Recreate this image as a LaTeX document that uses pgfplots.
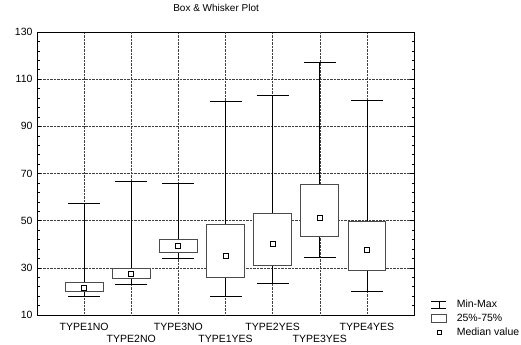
\documentclass[border=0pt]{standalone}
\usepackage{fontspec}
\setmainfont{Liberation Sans}
\usepackage{pgfplots}
\usepackage{pgfplotstable}
\pgfplotsset{compat=1.18}
\pgfplotstableread{
pos min q1 med q3 max
1 17.9 19.8 21.3 24.0 57.4
2 22.9 25.4 27.3 29.6 66.7
3 33.9 36.7 39.1 41.9 65.8
4 18.1 25.8 34.9 48.3 100.5
5 23.3 31.2 40.1 53.1 103.2
6 34.3 43.1 51.3 65.4 117.2
7 20.0 28.7 37.6 49.7 101.2
}\stats
\begin{document}
\begin{tikzpicture}
\begin{axis}[
  scale only axis, width=377pt, height=283pt,
  xmin=0, xmax=8, ymin=10, ymax=130,
  ytick={10,30,...,130},
  minor y tick num=4,
  xtick={1,3,5,7},
  xticklabels={TYPE1NO,TYPE3NO,TYPE2YES,TYPE4YES},
  extra x ticks={2,4,6},
  extra x tick labels={TYPE2NO,TYPE1YES,TYPE3YES},
  extra x tick style={grid=major, xticklabel style={yshift=-12.3pt}},
  xtick style={draw=none},
  grid=major,
  grid style={densely dotted, black!75, line width=0.5pt},
  axis line style={black, line width=0.8pt},
  tick align=inside, tick pos=both,
  major tick length=4pt, minor tick length=2.5pt,
  ytick style={black, line width=0.5pt},
  /pgf/number format/assume math mode=true,
  xticklabel style={font=\fontsize{10.5}{12}\selectfont, anchor=north, yshift=-4.5pt},
  yticklabel style={font=\fontsize{10.5}{12}\selectfont, xshift=-1pt},
  title={Box \& Whisker Plot},
  title style={font=\fontsize{10}{12}\selectfont, at={(0.475,1)}, anchor=base, yshift=14.7pt},
  legend style={draw=none, fill=none, inner sep=0pt, outer sep=0pt,
    at={(rel axis cs:1,0)}, anchor=north west, xshift=17pt, yshift=17pt,
    font=\fontsize{10.5}{12}\selectfont, row sep=1pt,
    /tikz/every odd column/.append style={column sep=8pt}},
  legend cell align=left,
]
% whiskers (min to max)
\addplot[forget plot, draw=none, mark=none,
  error bars/.cd, y dir=both, y explicit,
  error bar style={draw=black, line width=0.7pt},
  error mark options={draw=black, rotate=90, mark size=16pt, line width=0.7pt}]
  table[x=pos, y=med, y error plus expr=\thisrow{max}-\thisrow{med}, y error minus expr=\thisrow{med}-\thisrow{min}] {\stats};
% boxes (25%-75%)
\addplot[forget plot, draw=black!70, fill=white, line width=0.9pt] coordinates {(0.6,19.8) (1.4,19.8) (1.4,24.0) (0.6,24.0)} -- cycle;
\addplot[forget plot, draw=black!70, fill=white, line width=0.9pt] coordinates {(1.6,25.4) (2.4,25.4) (2.4,29.6) (1.6,29.6)} -- cycle;
\addplot[forget plot, draw=black!70, fill=white, line width=0.9pt] coordinates {(2.6,36.7) (3.4,36.7) (3.4,41.9) (2.6,41.9)} -- cycle;
\addplot[forget plot, draw=black!70, fill=white, line width=0.9pt] coordinates {(3.6,25.8) (4.4,25.8) (4.4,48.3) (3.6,48.3)} -- cycle;
\addplot[forget plot, draw=black!70, fill=white, line width=0.9pt] coordinates {(4.6,31.2) (5.4,31.2) (5.4,53.1) (4.6,53.1)} -- cycle;
\addplot[forget plot, draw=black!70, fill=white, line width=0.9pt] coordinates {(5.6,43.1) (6.4,43.1) (6.4,65.4) (5.6,65.4)} -- cycle;
\addplot[forget plot, draw=black!70, fill=white, line width=0.9pt] coordinates {(6.6,28.7) (7.4,28.7) (7.4,49.7) (6.6,49.7)} -- cycle;
% medians
\addplot[forget plot, only marks, mark=square*, mark size=2.5pt, mark options={fill=white, draw=black, line width=0.8pt}]
  table[x=pos, y=med] {\stats};
\addlegendimage{legend image code/.code={\draw[black, line width=0.6pt] (0pt,-3.5pt)--(15pt,-3.5pt) (7.5pt,-3.5pt)--(7.5pt,3.5pt) (0pt,3.5pt)--(15pt,3.5pt);}}
\addlegendentry{Min-Max}
\addlegendimage{legend image code/.code={\draw[black!70, line width=0.8pt, fill=white] (0pt,-3.7pt) rectangle (15pt,3.7pt);}}
\addlegendentry{25\%-75\%}
\addlegendimage{legend image code/.code={\draw[black, line width=0.7pt, fill=white] (5.5pt,-2pt) rectangle (9.5pt,2pt);}}
\addlegendentry{Median value}
\end{axis}
\pgfresetboundingbox
\path[use as bounding box] ([shift={(-37pt,-29pt)}]current axis.south west) rectangle ([shift={(107pt,32pt)}]current axis.north east);
\end{tikzpicture}
\end{document}
